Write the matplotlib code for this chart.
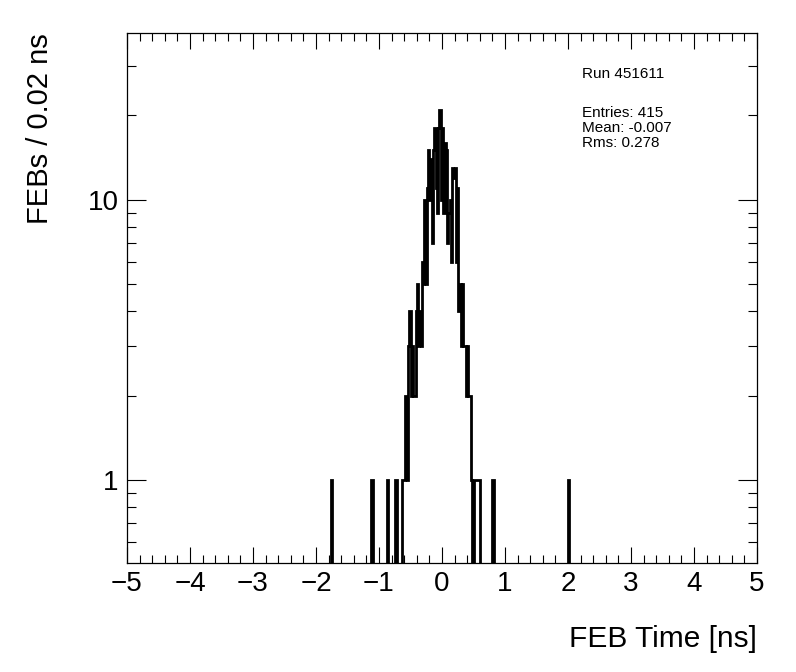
import numpy as np
import matplotlib
matplotlib.use("Agg")
import matplotlib.pyplot as plt
from matplotlib.ticker import LogLocator, MultipleLocator, FuncFormatter, NullFormatter

# --------------------------
# Data : FEB time histogram (0.02 ns bins, only non-empty bins listed)
# --------------------------
bin_left = [-1.76, -1.12, -0.88, -0.74, -0.64,
            -0.62, -0.60, -0.58, -0.56, -0.54, -0.52, -0.50, -0.48, -0.46, -0.44,
            -0.42, -0.40, -0.38, -0.36, -0.34, -0.32, -0.30, -0.28, -0.26, -0.24,
            -0.22, -0.20, -0.18, -0.16, -0.14, -0.12, -0.10, -0.08, -0.06, -0.04,
            -0.02, 0.00, 0.02, 0.04, 0.06, 0.08, 0.10, 0.12, 0.14, 0.16,
            0.18, 0.20, 0.22, 0.24, 0.26, 0.28, 0.30, 0.32, 0.34, 0.36,
            0.38, 0.40, 0.42, 0.44, 0.46, 0.50, 0.52, 0.54, 0.56, 0.58,
            0.80, 2.00]
counts = [1, 1, 1, 1, 1,
          1, 1, 2, 1, 3, 4, 2, 3, 2, 2,
          4, 5, 3, 4, 3, 6, 5, 10, 5, 11,
          15, 10, 14, 7, 15, 18, 11, 9, 18, 21,
          10, 18, 9, 16, 15, 7, 9, 10, 6, 13,
          12, 13, 6, 11, 4, 5, 3, 5, 3, 3,
          2, 3, 2, 2, 1, 1, 1, 1, 1, 1,
          1, 1]

run_text = "Run 451611"
stats_text = "Entries: 415\nMean: -0.007\nRms: 0.278"

plt.rcParams["font.family"] = ["Liberation Sans", "DejaVu Sans"]

fig = plt.figure(figsize=(7.96, 6.72), dpi=100)
ax = fig.add_axes([127 / 796, 109 / 672, 630 / 796, 530 / 672])

edges = np.linspace(-5, 5, 501)
centers = np.array(bin_left) + 0.01
ax.hist(centers, bins=edges, weights=counts, histtype="step",
        color="black", linewidth=2.0, log=True)

ax.set_xlim(-5, 5)
ax.set_ylim(0.505, 39.4)

# ticks facon ROOT
ax.xaxis.set_major_locator(MultipleLocator(1))
ax.xaxis.set_minor_locator(MultipleLocator(0.2))
ax.yaxis.set_major_locator(LogLocator(base=10))
ax.yaxis.set_minor_locator(LogLocator(base=10, subs=np.arange(2, 10)))
ax.yaxis.set_major_formatter(FuncFormatter(lambda v, _: f"{v:g}"))
ax.yaxis.set_minor_formatter(NullFormatter())
ax.tick_params(which="both", direction="in", top=True, right=True, width=0.8)
ax.tick_params(which="major", axis="x", length=11.5, labelsize=20, pad=6)
ax.tick_params(which="minor", axis="x", length=6)
ax.tick_params(which="major", axis="y", length=14, labelsize=20, pad=6)
ax.tick_params(which="minor", axis="y", length=6.5)
for s in ax.spines.values():
    s.set_linewidth(0.9)

ax.set_xlabel("FEB Time [ns]", fontsize=21.5, loc="right", labelpad=20)
ax.set_ylabel("FEBs / 0.02 ns", fontsize=21, loc="top", labelpad=24)

fig.text(582 / 796, 1 - 74 / 672, run_text, fontsize=11, va="center", ha="left")
fig.text(582 / 796, 1 - 106 / 672, stats_text, fontsize=11, va="top", ha="left",
         linespacing=1.1)

fig.savefig("out.png", dpi=100)
